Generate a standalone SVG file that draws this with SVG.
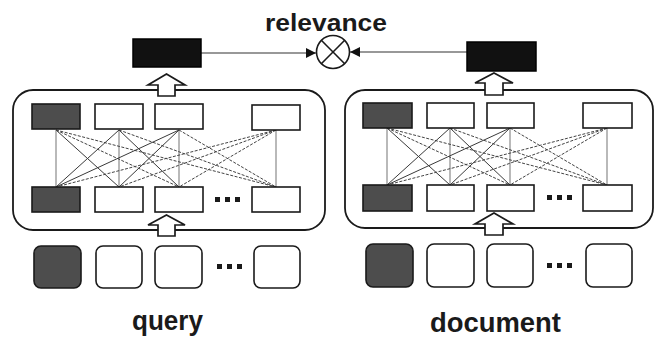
<svg xmlns="http://www.w3.org/2000/svg" width="654" height="339" viewBox="0 0 654 339">
<style>
.panel{fill:#fff;stroke:#1a1a1a;stroke-width:1.8}
.w{fill:#fff;stroke:#1a1a1a;stroke-width:1.6}
.d{fill:#4d4d4d;stroke:#1a1a1a;stroke-width:1.6}
.k{fill:#111;stroke:#000;stroke-width:1.5}
.v{stroke:#8a8a8a;stroke-width:1.2;fill:none}
.s{stroke:#3a3a3a;stroke-width:1;fill:none}
.ds{stroke:#444;stroke-width:1;fill:none;stroke-dasharray:3 1.5}
.blk{fill:#fff;stroke:#1a1a1a;stroke-width:1.7;stroke-linejoin:miter}
.ln{stroke:#333;stroke-width:1.1;fill:none}
.lbl{font-family:"Liberation Sans",Arial,sans-serif;font-weight:bold;fill:#1a1a1a}
.dot{fill:#1a1a1a}
</style>
<defs>
<marker id="ah" viewBox="0 0 10 10" refX="10" refY="5" markerWidth="10" markerHeight="10" markerUnits="userSpaceOnUse" orient="auto">
<path d="M0,0 L10,5 L0,10 z" fill="#111"/>
</marker>
</defs>

<g id="query-panel"><rect class="panel" x="13" y="90" width="312" height="140" rx="20"/></g>
<g id="doc-panel"><rect class="panel" x="345" y="90" width="308" height="138" rx="20"/></g>

<g id="connectors">
<g id="q-mesh">
<line class="v" x1="56" y1="130" x2="56" y2="187"/>
<line class="v" x1="119" y1="130" x2="119" y2="187"/>
<line class="v" x1="179" y1="130" x2="179" y2="187"/>
<line class="v" x1="276" y1="130" x2="276" y2="187"/>
<line class="s" x1="56" y1="130" x2="119" y2="187"/>
<line class="ds" x1="56" y1="130" x2="179" y2="187"/>
<line class="ds" x1="56" y1="130" x2="276" y2="187"/>
<line class="s" x1="119" y1="130" x2="56" y2="187"/>
<line class="s" x1="119" y1="130" x2="179" y2="187"/>
<line class="ds" x1="119" y1="130" x2="276" y2="187"/>
<line class="s" x1="179" y1="130" x2="56" y2="187"/>
<line class="s" x1="179" y1="130" x2="119" y2="187"/>
<line class="ds" x1="179" y1="130" x2="276" y2="187"/>
<line class="ds" x1="276" y1="130" x2="56" y2="187"/>
<line class="ds" x1="276" y1="130" x2="119" y2="187"/>
<line class="ds" x1="276" y1="130" x2="179" y2="187"/>
</g>
<g id="d-mesh">
<line class="v" x1="387" y1="128" x2="387" y2="185"/>
<line class="v" x1="450" y1="128" x2="450" y2="185"/>
<line class="v" x1="510" y1="128" x2="510" y2="185"/>
<line class="v" x1="607" y1="128" x2="607" y2="185"/>
<line class="s" x1="387" y1="128" x2="450" y2="185"/>
<line class="ds" x1="387" y1="128" x2="510" y2="185"/>
<line class="ds" x1="387" y1="128" x2="607" y2="185"/>
<line class="s" x1="450" y1="128" x2="387" y2="185"/>
<line class="s" x1="450" y1="128" x2="510" y2="185"/>
<line class="ds" x1="450" y1="128" x2="607" y2="185"/>
<line class="s" x1="510" y1="128" x2="387" y2="185"/>
<line class="s" x1="510" y1="128" x2="450" y2="185"/>
<line class="ds" x1="510" y1="128" x2="607" y2="185"/>
<line class="ds" x1="607" y1="128" x2="387" y2="185"/>
<line class="ds" x1="607" y1="128" x2="450" y2="185"/>
<line class="ds" x1="607" y1="128" x2="510" y2="185"/>
</g>
<polygon class="blk" points="166.5,74 185,85 175,85 175,96 158,96 158,85 148,85"/>
<polygon class="blk" points="166.5,215 185,225 175,225 175,236 158,236 158,225 148,225"/>
<polygon class="blk" points="494,73 513,83 503,83 503,95 485,95 485,83 475,83"/>
<polygon class="blk" points="494,213 513,224 503,224 503,235 485,235 485,224 475,224"/>
<line class="ln" x1="201" y1="53" x2="316" y2="53" marker-end="url(#ah)"/>
<line class="ln" x1="467" y1="52" x2="350" y2="52" marker-end="url(#ah)"/>
</g>

<g id="query-top">
<rect class="d" x="32" y="104" width="48" height="25"/>
<rect class="w" x="95" y="104" width="48" height="25"/>
<rect class="w" x="155" y="104" width="48" height="25"/>
<rect class="w" x="252" y="105" width="48" height="25"/>
</g>
<g id="query-bottom">
<rect class="d" x="32" y="187" width="48" height="25"/>
<rect class="w" x="95" y="187" width="48" height="25"/>
<rect class="w" x="155" y="187" width="48" height="25"/>
<rect class="dot" x="215" y="197" width="5" height="5"/>
<rect class="dot" x="225" y="197" width="5" height="5"/>
<rect class="dot" x="235" y="197" width="5" height="5"/>
<rect class="w" x="252" y="187" width="48" height="25"/>
</g>
<g id="query-input">
<rect class="d" x="34" y="246" width="47" height="42" rx="7"/>
<rect class="w" x="96" y="246" width="46" height="42" rx="7"/>
<rect class="w" x="155" y="246" width="47" height="42" rx="7"/>
<rect class="dot" x="217" y="264" width="5" height="5"/>
<rect class="dot" x="227" y="264" width="5" height="5"/>
<rect class="dot" x="237" y="264" width="5" height="5"/>
<rect class="w" x="254" y="246" width="46" height="42" rx="7"/>
</g>
<g id="query-vec"><rect class="k" x="133" y="39" width="68" height="28"/></g>

<g id="doc-top">
<rect class="d" x="363" y="103" width="49" height="25"/>
<rect class="w" x="427" y="103" width="47" height="25"/>
<rect class="w" x="487" y="103" width="47" height="25"/>
<rect class="w" x="583" y="103" width="49" height="25"/>
</g>
<g id="doc-bottom">
<rect class="d" x="363" y="185" width="49" height="26"/>
<rect class="w" x="427" y="185" width="47" height="26"/>
<rect class="w" x="487" y="185" width="47" height="26"/>
<rect class="dot" x="547" y="195" width="5" height="5"/>
<rect class="dot" x="557" y="195" width="5" height="5"/>
<rect class="dot" x="567" y="195" width="5" height="5"/>
<rect class="w" x="583" y="185" width="49" height="26"/>
</g>
<g id="doc-input">
<rect class="d" x="366" y="244" width="47" height="43" rx="7"/>
<rect class="w" x="427" y="244" width="47" height="43" rx="7"/>
<rect class="w" x="487" y="244" width="46" height="43" rx="7"/>
<rect class="dot" x="547" y="263" width="5" height="5"/>
<rect class="dot" x="557" y="263" width="5" height="5"/>
<rect class="dot" x="567" y="263" width="5" height="5"/>
<rect class="w" x="586" y="244" width="46" height="43" rx="7"/>
</g>
<g id="doc-vec"><rect class="k" x="467" y="42" width="69" height="29"/></g>

<g id="relevance">
<circle cx="333" cy="52" r="16.5" fill="#fff" stroke="#1a1a1a" stroke-width="1.6"/>
<line x1="321.3" y1="40.3" x2="344.7" y2="63.7" stroke="#1a1a1a" stroke-width="1.6"/>
<line x1="344.7" y1="40.3" x2="321.3" y2="63.7" stroke="#1a1a1a" stroke-width="1.6"/>
<text class="lbl" x="326" y="31" font-size="23" text-anchor="middle" textLength="122" lengthAdjust="spacingAndGlyphs">relevance</text>
</g>
<g id="query-label"><text class="lbl" x="167.5" y="330" font-size="27" text-anchor="middle" textLength="71" lengthAdjust="spacingAndGlyphs">query</text></g>
<g id="doc-label"><text class="lbl" x="495.5" y="332" font-size="27" text-anchor="middle" textLength="131" lengthAdjust="spacingAndGlyphs">document</text></g>
</svg>
